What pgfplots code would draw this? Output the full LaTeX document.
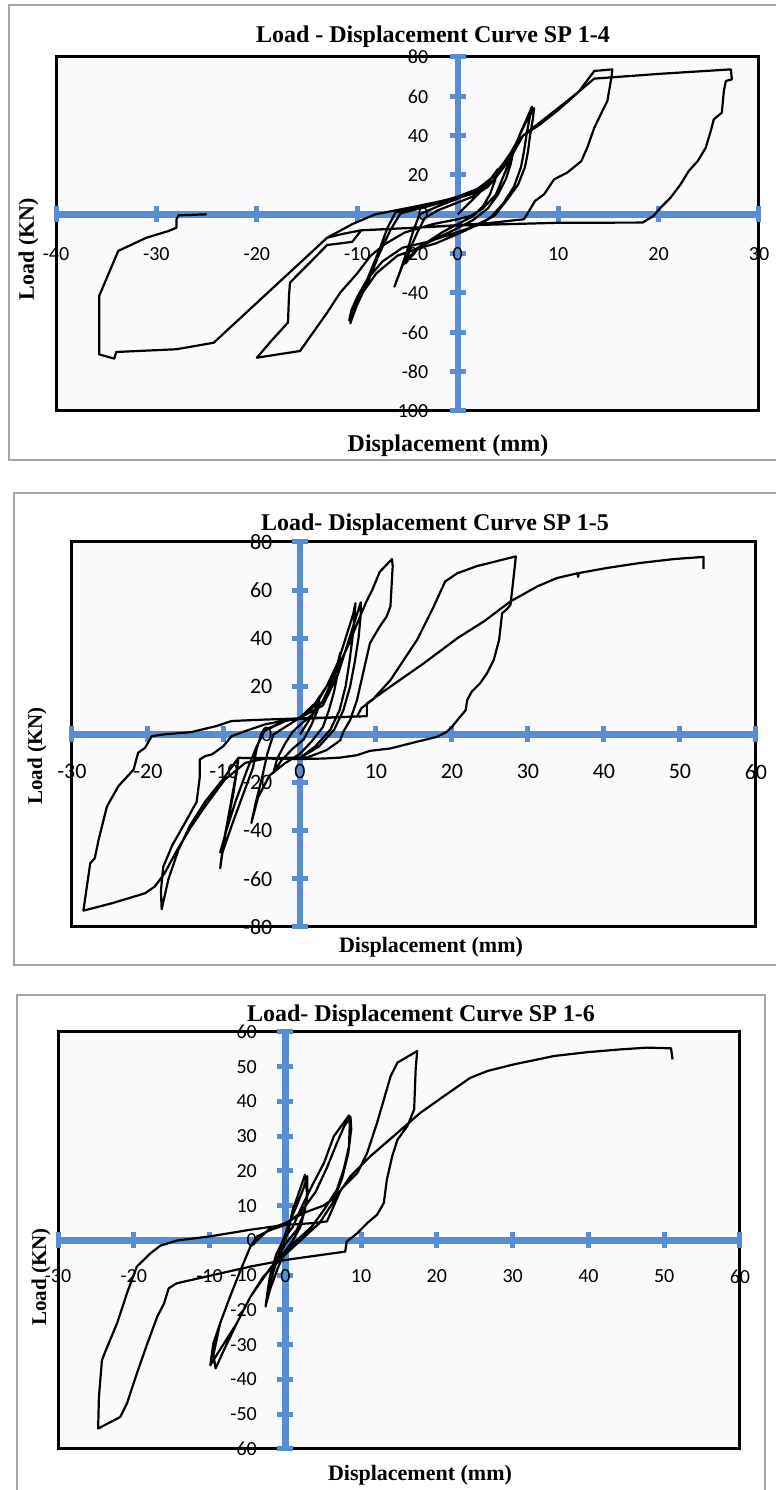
\documentclass[border=0pt]{standalone}
\usepackage{fontspec}
\setmainfont{Liberation Serif}
\newfontfamily\carlito{Carlito}
\usepackage{pgfplots}
\pgfplotsset{compat=1.18}
\definecolor{axblue}{RGB}{88,141,212}
\definecolor{plotbg}{RGB}{250,250,252}
\definecolor{framegray}{RGB}{165,165,165}
\pgfplotsset{
  hyst/.style={
    scale only axis,
    anchor=south west,
    axis lines=middle,
    axis line style={axblue, line width=3.2pt, -},
    every inner x axis line/.append style={-},
    every inner y axis line/.append style={-},
    tick style={axblue, line width=2.5pt},
    major tick length=8pt,
    tick align=center,
    enlargelimits=false,
    axis background/.style={fill=plotbg, draw=black, line width=1.5pt},
    hide obscured x ticks=false,
    hide obscured y ticks=false,
    clip=true,
    cycle list={{black, mark=none}},
    every axis plot post/.append style={black, line width=1.1pt, line join=round, mark=none},
  }
}
\begin{document}
\begin{tikzpicture}
\useasboundingbox (0,0) rectangle (388pt,745pt);
% panel frames
\draw[framegray, line width=0.9pt] (4.5pt,515pt) rectangle (392pt,742.5pt);
\draw[framegray, line width=0.9pt] (7pt,262.5pt) rectangle (392pt,498.5pt);
\draw[framegray, line width=0.9pt] (8.5pt,-5pt) rectangle (382.5pt,247.5pt);

% ---------------- Panel 1 ----------------
\begin{axis}[hyst,
  at={(28pt,539.5pt)}, width=351.5pt, height=177pt,
  xmin=-40, xmax=30, ymin=-100, ymax=80,
  xtick={-40,-30,-20,-10,0,10,20,30},
  xticklabels={-40,-30,-20,-10,0,10,20,30},
  ytick={-100,-80,-60,-40,-20,0,20,40,60,80},
  yticklabels={-100,-80,-60,-40,-20,0,20,40,60,80},
  xticklabel style={font=\carlito\fontsize{10}{12}\selectfont, yshift=-9pt},
  yticklabel style={font=\carlito\fontsize{10}{12}\selectfont, xshift=-7.2pt},
]
\addplot coordinates {
(0,0) (1,5) (2,10) (3,16) (4,23)
(3.7,17) (3.2,10) (2.5,4) (1.5,-1) (0,-5)
(-1.5,-9) (-3,-14) (-4.3,-19) (-5.2,-25)
(-4.7,-17) (-4,-9) (-3.3,-2) (-2,2) (0,6)
(1.5,9) (3,14) (4,20) (5,28) (5.6,34)
(5.3,26) (4.8,18) (4,10) (3,3) (1.5,-3) (0,-7)
(-2,-12) (-4,-17) (-5.5,-26) (-6.3,-36.8)
(-5.6,-27) (-5,-18) (-4.4,-8) (-3.8,0) (-2,4) (0,8)
(2,12) (3.5,17) (4.6,24) (5.5,32) (6.3,42) (7.0,50) (7.4,54.8)
(7.2,50) (6.9,42) (6.6,32) (6.3,24) (5.6,14) (4.6,6) (3.3,-1.5) (1.5,-6.5) (0,-10) (-2.2,-14.8) (-4,-17.5)
(-6,-21) (-8.1,-30) (-9.5,-40) (-10.2,-48) (-10.7,-55.5)
(-10.1,-47) (-9,-35) (-7.8,-20) (-6.7,-8) (-5.7,0.5) (-3,4) (0,8.5)
(2,13) (3.5,19) (4.8,27) (5.8,36) (6.7,46) (7.6,54)
(7.5,49) (7.2,40) (7.0,32) (6.7,24) (6,15) (5,8) (3.7,-0.5) (2,-5.5) (0,-9) (-3,-14) (-5.5,-17)
(-7.5,-24) (-9,-33) (-10,-42) (-10.6,-49) (-10.8,-54)
(-10.2,-46) (-9,-33) (-7.8,-18) (-7,-7) (-6.2,1) (-3,4.5) (0,9) (2,13) (3.5,19) (4.7,27) (5.5,33) (6.5,40) (8,45) (10,53) (12,62) (13.6,72.9) (15.4,73.7)
(15.3,69.5) (14.9,57.6) (14.4,52.5) (13.6,44) (12.9,33.9) (12.3,27) (10.9,21.2) (9.6,17.8) (8.6,10.2) (7.7,6.8) (7.1,1.7) (6.6,-2.5) (3,-4.5) (0,-5.5) (-5,-7) (-9.6,-8.1)
(-10.5,-14) (-13,-15.6) (-15,-26) (-16.7,-34.7) (-16.8,-41.5) (-16.9,-55) (-18.5,-64) (-20,-72.9)
(-15.7,-69.5) (-13,-50) (-11.7,-39.8) (-10,-30) (-8.7,-21.2) (-7.3,-15.3) (-5.3,-9.3) (-2.5,-5) (0,-2.5) (1.3,-0.8)
(2.5,3) (3.8,10) (4.6,20) (5.4,30) (6.5,40) (8.5,48) (10.5,56) (12.2,63) (13.6,69) (20,71.4) (27.2,73.7)
(27.3,68.6) (26.7,67.8) (26.5,62.7) (26.3,51.7) (25.5,48.3) (25.2,42.4) (24.7,33.9) (23.9,27.1) (23,22) (22.2,15.3) (21.2,8.5) (20.2,3.4) (19.5,-0.8) (18.4,-4.2) (10,-4.3) (0,-5.7) (-7.7,-7.7) (-9.6,-8.1)
(-11.5,-10) (-13,-11.9) (-24.3,-65.3) (-28,-68.6) (-34,-70) (-34.2,-73.4) (-35.7,-71.2) (-35.7,-41.5) (-33.8,-18.6) (-31,-11.9) (-28.8,-8.5) (-28,-6.8) (-28,-2.5) (-27.8,-0.5) (-25,0)
};
\addplot coordinates {(-13,-11.9) (-10.5,-5) (-8.2,0) (-4,4.2) (0,8.5) (2,11)};
\end{axis}
\node[anchor=base, font=\bfseries\fontsize{12}{14}\selectfont] at (216.5pt,723.5pt) {Load - Displacement Curve SP 1-4};
\node[anchor=base, font=\bfseries\fontsize{12}{14}\selectfont] at (224pt,519pt) {Displacement (mm)};
\node[rotate=90, font=\bfseries\fontsize{11}{13}\selectfont] at (14.25pt,620.5pt) {Load (KN)};

% ---------------- Panel 2 ----------------
\begin{axis}[hyst,
  at={(36pt,281.5pt)}, width=342pt, height=192.5pt,
  xmin=-30, xmax=60, ymin=-80, ymax=80,
  xtick={-30,-20,-10,0,10,20,30,40,50,60},
  xticklabels={-30,-20,-10,0,10,20,30,40,50,60},
  ytick={-80,-60,-40,-20,0,20,40,60,80},
  yticklabels={-80,-60,-40,-20,0,20,40,60,80},
  xticklabel style={font=\carlito\fontsize{11}{13}\selectfont, yshift=-7.4pt},
  yticklabel style={font=\carlito\fontsize{11}{13}\selectfont, xshift=-6.3pt},
]
\addplot coordinates {
(0,0) (1,5) (2,10) (2.6,16)
(2.3,10) (1.5,4) (0.5,-2) (-1,-6) (-2.5,-11) (-3.5,-16)
(-3,-10) (-2,-4) (-1,1) (0,4) (1.5,8) (3,14) (4.5,24) (5.3,34)
(5,26) (4.5,18) (3.8,10) (3,3) (1.5,-3) (0,-8) (-2,-12) (-4,-17) (-5.5,-26) (-6.4,-36.8)
(-5.8,-28) (-5,-18) (-4.3,-8) (-3.5,0) (-1.5,4) (0,7) (2,12) (3.5,20) (5,30) (6.2,42) (7,50) (7.3,54.6)
(7.2,50) (6.9,40) (6.5,30) (6,20) (5.2,10) (4,2) (2,-5) (0,-9.7) (-4,-10) (-8.1,-9.7)
(-8.3,-15) (-8.8,-25) (-9.6,-38) (-10.2,-48) (-10.5,-55.6)
(-10.2,-49) (-9,-38) (-7.5,-25) (-6.2,-14) (-5.7,-6) (-5,1) (-2,5.5) (0,7) (3,12) (5,25) (6.5,40) (7.5,50) (8,54.9)
(8,50) (7.7,40) (7.2,30) (6.6,20) (5.7,10) (4.5,2) (2.5,-5) (0,-9.7) (-5,-9.8) (-8.1,-9.7) (-8.5,-18) (-9.3,-32) (-10,-44) (-10.5,-49)
(-9.7,-40) (-8.5,-28) (-7,-15) (-5.7,-5) (-4.6,2) (-2,5.5) (0,7)
(2,13) (3.5,20) (5,28) (6.5,38) (7.5,46) (8.7,55) (9.5,60) (10.5,67.6) (12.1,72.9)
(12.2,70) (11.9,53.2) (11.4,49) (10.5,44.9) (9.2,37.9) (8.6,29.6) (7.9,19.9) (7.5,14.3) (6.6,6) (5.7,1.1) (5.3,-2.4) (3.5,-6.5) (1,-9.5) (-3,-9.8) (-8.1,-9.7)
(-10,-18) (-12.5,-28) (-14.5,-38) (-16,-48) (-17.3,-60) (-18.2,-72.6)
(-18.3,-65) (-18,-55) (-16.8,-46) (-15,-36) (-13.6,-28) (-13.2,-18) (-13.2,-10.4) (-12.5,-9) (-11.6,-8.3) (-10.1,-4.9) (-9,-0.7) (-7.2,1.4) (-4.6,4.2) (-2.4,5.6) (0,6.5) (4,7) (7.5,7.5) (8.1,11) (9.5,14.3) (11.9,22.6) (15.4,39.3) (17.6,53.2) (19.1,63.6) (20.7,67) (23.3,70) (28.4,74)
(28.2,68) (27.7,53.9) (27.2,52) (26.6,50.4) (26.2,39.3) (25.5,31) (24.6,25.4) (23.7,21.3) (22.6,17.8) (22,14.3) (21.8,10.1) (20.9,6.7) (20,3.2) (19.3,1.1) (18,-1) (15.4,-3) (11.9,-5.8) (9.2,-6.8) (7.5,-8.6) (5.3,-9.6) (3.1,-10) (0,-10.2) (-4.6,-10) (-7.2,-11.8) (-9.9,-18.8) (-12.5,-29.9) (-14.3,-38.2) (-16.4,-49.3) (-17.8,-57.6) (-19.1,-63.2) (-20.4,-66) (-24.7,-70.1) (-28.5,-73.2)
(-27.6,-53.5) (-27,-51.4) (-26.5,-43.8) (-25.4,-29.9) (-23.9,-21.5) (-21.9,-14.6) (-21.3,-7.6) (-20.4,-5.6) (-19.5,-0.7) (-18,0) (-14.3,1) (-11,3.5) (-9,5.6) (-4.6,6.2) (0,6.7) (5,7.2) (8.8,7.6) (8.8,12.9) (11.9,19.9) (16.3,29.6) (20.7,40) (24.2,47) (27.7,55.3) (31.2,61.5) (33.8,65) (36.5,67) (36.6,65.5) (36.7,67.1) (40.4,69.2) (44.8,71.3) (49.2,72.9) (53.1,73.8) (53.1,68.8)
};
\end{axis}
\node[anchor=base, font=\bfseries\fontsize{12}{14}\selectfont] at (217.5pt,479.5pt) {Load- Displacement Curve SP 1-5};
\node[anchor=base, font=\bfseries\fontsize{11}{13}\selectfont] at (215.5pt,268.5pt) {Displacement (mm)};
\node[rotate=90, font=\bfseries\fontsize{10.5}{12}\selectfont] at (18.5pt,367pt) {Load (KN)};

% ---------------- Panel 3 ----------------
\begin{axis}[hyst,
  at={(29pt,20.5pt)}, width=341pt, height=208.5pt,
  xmin=-30, xmax=60, ymin=-60, ymax=60,
  xtick={-30,-20,-10,0,10,20,30,40,50,60},
  xticklabels={-30,-20,-10,0,10,20,30,40,50,60},
  ytick={-60,-50,-40,-30,-20,-10,0,10,20,30,40,50,60},
  yticklabels={-60,-50,-40,-30,-20,-10,0,10,20,30,40,50,60},
  xticklabel style={font=\carlito\fontsize{10}{12}\selectfont, yshift=-7pt},
  yticklabel style={font=\carlito\fontsize{10}{12}\selectfont, xshift=-6.7pt},
]
\addplot coordinates {
(0,0) (0.5,4) (1,9) (1.5,12) (2.6,18.9)
(2.8,15) (2.9,12.7) (2.5,8) (1.5,3) (0,-1) (-1,-5) (-2,-12) (-2.6,-19)
(-2.3,-14) (-2,-10) (-1.2,-4) (-0.3,0) (0.5,5) (1.5,10) (2.4,15) (2.9,18.5)
(2.9,14) (2.6,9) (2,4) (1,0) (0,-3) (-1,-8) (-2,-14) (-2.5,-18)
(-2,-12) (-1,-5) (0,1) (1,4) (2.4,10.8) (3.7,16.5) (5.1,22.3) (6.4,30) (8.4,36)
(8.5,33) (8.4,27.1) (7.7,20.4) (6.8,14.6) (5.1,8.8) (3.5,4) (2,1) (0,-3) (-2,-8) (-4.6,-16.2) (-6.4,-23.8) (-8.1,-31.5) (-9.2,-36.8)
(-9.5,-33) (-8.6,-23.8) (-7.3,-16.2) (-5.9,-8.5) (-4.6,-1.7) (-3.7,1.2) (-2,3) (0,4.5) (2,8) (4,14) (5.5,21) (6.8,28) (7.8,33) (8.6,35.6)
(8.7,32) (8.3,25) (7.5,18) (6.3,11) (4.5,5) (2.5,1) (0,-4) (-2.9,-10.4) (-4.6,-16.2) (-6.4,-23.8) (-8.5,-31) (-9.9,-35.9)
(-9.5,-29.6) (-8.6,-23.8) (-7.3,-16.2) (-5.9,-8.5) (-4.6,-1.7) (-2,3.5) (0,5) (2.5,8) (5,10) (6.8,12.7) (7.5,15.1) (9.5,19.4) (10.8,25.2) (12.1,33.8) (13.9,47.3) (14.8,51.2) (17.4,54.5)
(17.2,49.2) (17,37.7) (16.1,32.9) (14.8,29) (14.1,24.2) (13.4,17.5) (13,10.8) (12.1,7.4) (10.8,5) (9.5,2.1) (8.1,-0.3) (7.9,-3.2) (0,-5.6) (-4.6,-7.5) (-14.3,-12.3)
(-14.7,-12.8) (-15.4,-13.8) (-16,-18.1) (-16.9,-21.9) (-18.2,-29.6) (-19.6,-38.3) (-20.9,-46.9) (-21.8,-50.8) (-23.9,-53.2) (-24.7,-54.1)
(-24.6,-45) (-24.2,-34.4) (-23.5,-30.6) (-22.2,-23.8) (-20.9,-15.2) (-19.6,-7.5) (-17.8,-3.7) (-16.5,-1.5) (-14.3,0) (-9.9,1.2) (-4.6,3.1) (0,4.5) (3.7,5) (5.5,5.5)
(6.2,9) (7.2,14) (8.6,18.5) (11.2,24.2) (14.8,31) (17.8,36.7) (20.9,41.5) (24.4,46.8) (26.7,48.8) (30.2,50.7) (35.5,53.1) (39.9,54.2) (44.3,55) (47.8,55.5) (50.9,55.3) (51.1,52.1)
};
\end{axis}
\node[anchor=base, font=\bfseries\fontsize{12}{14}\selectfont] at (210.5pt,234pt) {Load- Displacement Curve SP 1-6};
\node[anchor=base, font=\bfseries\fontsize{11}{13}\selectfont] at (210pt,5pt) {Displacement (mm)};
\node[rotate=90, font=\bfseries\fontsize{10.5}{12}\selectfont] at (20.5pt,106.5pt) {Load (KN)};
\end{tikzpicture}
\end{document}
